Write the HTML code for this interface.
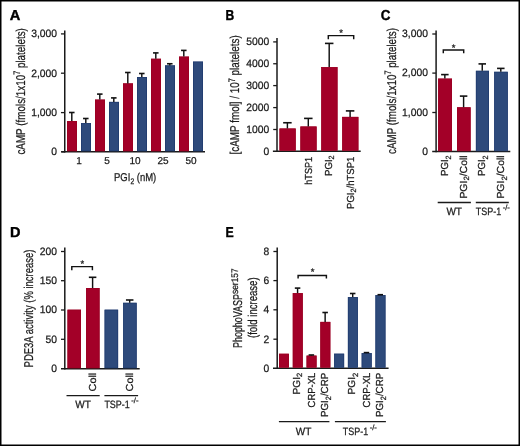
<!DOCTYPE html>
<html><head><meta charset="utf-8"><title>Figure</title>
<style>
html,body{margin:0;padding:0;background:#fff;}
svg{display:block;will-change:transform;}
text{text-rendering:geometricPrecision;font-family:"Liberation Sans",sans-serif;fill:#1a1a1a;stroke:#1a1a1a;stroke-width:0.25px;}
</style></head>
<body>
<svg width="520" height="446" viewBox="0 0 520 446">
<rect x="0" y="0" width="520" height="446" fill="#fff"/>
<text x="9.70" y="19.70" font-size="14.4" text-anchor="start" textLength="10.60" lengthAdjust="spacingAndGlyphs" font-weight="bold" style="stroke-width:0.4px;fill:#000;stroke:#000">A</text>
<line x1="64.75" y1="30.50" x2="64.75" y2="152.45" stroke="#1a1a1a" stroke-width="1.5"/>
<line x1="60.95" y1="33.90" x2="64.75" y2="33.90" stroke="#1a1a1a" stroke-width="1.3"/>
<text x="57.00" y="37.20" font-size="10.7" text-anchor="end" textLength="25.83" lengthAdjust="spacingAndGlyphs">3,000</text>
<line x1="60.95" y1="73.20" x2="64.75" y2="73.20" stroke="#1a1a1a" stroke-width="1.3"/>
<text x="57.00" y="76.50" font-size="10.7" text-anchor="end" textLength="25.83" lengthAdjust="spacingAndGlyphs">2,000</text>
<line x1="60.95" y1="112.60" x2="64.75" y2="112.60" stroke="#1a1a1a" stroke-width="1.3"/>
<text x="57.00" y="115.90" font-size="10.7" text-anchor="end" textLength="25.83" lengthAdjust="spacingAndGlyphs">1,000</text>
<text x="57.00" y="155.05" font-size="10.7" text-anchor="end" textLength="5.74" lengthAdjust="spacingAndGlyphs">0</text>
<line x1="61.20" y1="151.75" x2="64.75" y2="151.75" stroke="#1a1a1a" stroke-width="1.5"/>
<line x1="61.20" y1="151.75" x2="205.00" y2="151.75" stroke="#1a1a1a" stroke-width="1.5"/>
<rect x="67.00" y="121.00" width="10.00" height="30.00" fill="#a30028"/>
<rect x="67.35" y="121.35" width="9.30" height="29.65" fill="none" stroke="#9a0022" stroke-width="0.7"/>
<line x1="71.80" y1="121.00" x2="71.80" y2="112.50" stroke="#111" stroke-width="1.45"/>
<line x1="69.05" y1="112.50" x2="74.55" y2="112.50" stroke="#111" stroke-width="1.6"/>
<rect x="81.00" y="123.10" width="10.00" height="27.90" fill="#2e4a7b"/>
<rect x="81.35" y="123.45" width="9.30" height="27.55" fill="none" stroke="#1f3a6e" stroke-width="0.7"/>
<line x1="85.80" y1="123.10" x2="85.80" y2="118.50" stroke="#111" stroke-width="1.45"/>
<line x1="83.05" y1="118.50" x2="88.55" y2="118.50" stroke="#111" stroke-width="1.6"/>
<rect x="95.00" y="99.60" width="10.00" height="51.40" fill="#a30028"/>
<rect x="95.35" y="99.95" width="9.30" height="51.05" fill="none" stroke="#9a0022" stroke-width="0.7"/>
<line x1="99.80" y1="99.60" x2="99.80" y2="94.10" stroke="#111" stroke-width="1.45"/>
<line x1="97.05" y1="94.10" x2="102.55" y2="94.10" stroke="#111" stroke-width="1.6"/>
<rect x="109.00" y="101.90" width="10.00" height="49.10" fill="#2e4a7b"/>
<rect x="109.35" y="102.25" width="9.30" height="48.75" fill="none" stroke="#1f3a6e" stroke-width="0.7"/>
<line x1="113.80" y1="101.90" x2="113.80" y2="97.90" stroke="#111" stroke-width="1.45"/>
<line x1="111.05" y1="97.90" x2="116.55" y2="97.90" stroke="#111" stroke-width="1.6"/>
<rect x="123.00" y="83.40" width="10.00" height="67.60" fill="#a30028"/>
<rect x="123.35" y="83.75" width="9.30" height="67.25" fill="none" stroke="#9a0022" stroke-width="0.7"/>
<line x1="127.80" y1="83.40" x2="127.80" y2="72.50" stroke="#111" stroke-width="1.45"/>
<line x1="125.05" y1="72.50" x2="130.55" y2="72.50" stroke="#111" stroke-width="1.6"/>
<rect x="137.00" y="77.00" width="10.00" height="74.00" fill="#2e4a7b"/>
<rect x="137.35" y="77.35" width="9.30" height="73.65" fill="none" stroke="#1f3a6e" stroke-width="0.7"/>
<line x1="141.80" y1="77.00" x2="141.80" y2="73.50" stroke="#111" stroke-width="1.45"/>
<line x1="139.05" y1="73.50" x2="144.55" y2="73.50" stroke="#111" stroke-width="1.6"/>
<rect x="151.00" y="58.75" width="10.00" height="92.25" fill="#a30028"/>
<rect x="151.35" y="59.10" width="9.30" height="91.90" fill="none" stroke="#9a0022" stroke-width="0.7"/>
<line x1="155.80" y1="58.75" x2="155.80" y2="52.90" stroke="#111" stroke-width="1.45"/>
<line x1="153.05" y1="52.90" x2="158.55" y2="52.90" stroke="#111" stroke-width="1.6"/>
<rect x="165.00" y="65.40" width="10.00" height="85.60" fill="#2e4a7b"/>
<rect x="165.35" y="65.75" width="9.30" height="85.25" fill="none" stroke="#1f3a6e" stroke-width="0.7"/>
<line x1="169.80" y1="65.40" x2="169.80" y2="63.75" stroke="#111" stroke-width="1.45"/>
<line x1="167.05" y1="63.75" x2="172.55" y2="63.75" stroke="#111" stroke-width="1.6"/>
<rect x="179.00" y="56.60" width="10.00" height="94.40" fill="#a30028"/>
<rect x="179.35" y="56.95" width="9.30" height="94.05" fill="none" stroke="#9a0022" stroke-width="0.7"/>
<line x1="183.80" y1="56.60" x2="183.80" y2="50.40" stroke="#111" stroke-width="1.45"/>
<line x1="181.05" y1="50.40" x2="186.55" y2="50.40" stroke="#111" stroke-width="1.6"/>
<rect x="193.00" y="61.60" width="10.00" height="89.40" fill="#2e4a7b"/>
<rect x="193.35" y="61.95" width="9.30" height="89.05" fill="none" stroke="#1f3a6e" stroke-width="0.7"/>
<text x="79.00" y="164.30" font-size="10" text-anchor="middle">1</text>
<text x="107.00" y="164.30" font-size="10" text-anchor="middle">5</text>
<text x="135.00" y="164.30" font-size="10" text-anchor="middle">10</text>
<text x="163.00" y="164.30" font-size="10" text-anchor="middle">25</text>
<text x="191.00" y="164.30" font-size="10" text-anchor="middle">50</text>
<text x="114.00" y="180.60" font-size="11.3" text-anchor="start" textLength="42.30" lengthAdjust="spacingAndGlyphs">PGI<tspan font-size="8" dy="3">2</tspan><tspan dy="-3"> (nM)</tspan></text>
<text transform="translate(24.80,154.60) rotate(-90)" font-size="12.8" text-anchor="start" textLength="126.50" lengthAdjust="spacingAndGlyphs">cAMP (fmols/1x10<tspan font-size="9.4" dy="-4.6">7</tspan><tspan dy="4.6"> platelets)</tspan></text>
<text x="225.40" y="19.80" font-size="14.4" text-anchor="start" textLength="8.70" lengthAdjust="spacingAndGlyphs" font-weight="bold" style="stroke-width:0.4px;fill:#000;stroke:#000">B</text>
<line x1="277.00" y1="38.10" x2="277.00" y2="152.00" stroke="#1a1a1a" stroke-width="1.5"/>
<line x1="273.20" y1="41.90" x2="277.00" y2="41.90" stroke="#1a1a1a" stroke-width="1.3"/>
<text x="269.20" y="45.20" font-size="10.7" text-anchor="end" textLength="22.96" lengthAdjust="spacingAndGlyphs">5000</text>
<line x1="273.20" y1="63.75" x2="277.00" y2="63.75" stroke="#1a1a1a" stroke-width="1.3"/>
<text x="269.20" y="67.05" font-size="10.7" text-anchor="end" textLength="22.96" lengthAdjust="spacingAndGlyphs">4000</text>
<line x1="273.20" y1="85.60" x2="277.00" y2="85.60" stroke="#1a1a1a" stroke-width="1.3"/>
<text x="269.20" y="88.90" font-size="10.7" text-anchor="end" textLength="22.96" lengthAdjust="spacingAndGlyphs">3000</text>
<line x1="273.20" y1="107.60" x2="277.00" y2="107.60" stroke="#1a1a1a" stroke-width="1.3"/>
<text x="269.20" y="110.90" font-size="10.7" text-anchor="end" textLength="22.96" lengthAdjust="spacingAndGlyphs">2000</text>
<line x1="273.20" y1="129.50" x2="277.00" y2="129.50" stroke="#1a1a1a" stroke-width="1.3"/>
<text x="269.20" y="132.80" font-size="10.7" text-anchor="end" textLength="22.96" lengthAdjust="spacingAndGlyphs">1000</text>
<text x="269.20" y="154.60" font-size="10.7" text-anchor="end" textLength="5.74" lengthAdjust="spacingAndGlyphs">0</text>
<line x1="272.90" y1="151.30" x2="360.70" y2="151.30" stroke="#1a1a1a" stroke-width="1.5"/>
<rect x="279.50" y="128.50" width="16.20" height="22.10" fill="#a30028"/>
<rect x="279.85" y="128.85" width="15.50" height="21.75" fill="none" stroke="#9a0022" stroke-width="0.7"/>
<line x1="287.40" y1="128.50" x2="287.40" y2="122.75" stroke="#111" stroke-width="1.45"/>
<line x1="283.15" y1="122.75" x2="291.65" y2="122.75" stroke="#111" stroke-width="1.6"/>
<rect x="300.40" y="126.50" width="16.20" height="24.10" fill="#a30028"/>
<rect x="300.75" y="126.85" width="15.50" height="23.75" fill="none" stroke="#9a0022" stroke-width="0.7"/>
<line x1="308.30" y1="126.50" x2="308.30" y2="118.40" stroke="#111" stroke-width="1.45"/>
<line x1="304.05" y1="118.40" x2="312.55" y2="118.40" stroke="#111" stroke-width="1.6"/>
<rect x="321.30" y="67.10" width="16.20" height="83.50" fill="#a30028"/>
<rect x="321.65" y="67.45" width="15.50" height="83.15" fill="none" stroke="#9a0022" stroke-width="0.7"/>
<line x1="329.20" y1="67.10" x2="329.20" y2="43.40" stroke="#111" stroke-width="1.45"/>
<line x1="324.95" y1="43.40" x2="333.45" y2="43.40" stroke="#111" stroke-width="1.6"/>
<rect x="342.20" y="116.90" width="16.20" height="33.70" fill="#a30028"/>
<rect x="342.55" y="117.25" width="15.50" height="33.35" fill="none" stroke="#9a0022" stroke-width="0.7"/>
<line x1="350.10" y1="116.90" x2="350.10" y2="110.90" stroke="#111" stroke-width="1.45"/>
<line x1="345.85" y1="110.90" x2="354.35" y2="110.90" stroke="#111" stroke-width="1.6"/>
<path d="M328.30,39.20 V35.60 H353.70 V39.20" fill="none" stroke="#111" stroke-width="1.45"/>
<text x="341.00" y="35.70" font-size="9.5" text-anchor="middle">*</text>
<text transform="translate(311.80,156.80) rotate(-90)" font-size="10.2" text-anchor="end" textLength="28.00" lengthAdjust="spacingAndGlyphs">hTSP1</text>
<text transform="translate(331.80,155.40) rotate(-90)" font-size="10.2" text-anchor="end" textLength="20.60" lengthAdjust="spacingAndGlyphs">PGI<tspan font-size="7.6" dy="2.6">2</tspan><tspan dy="-2.6"></tspan></text>
<text transform="translate(353.60,156.60) rotate(-90)" font-size="10.2" text-anchor="end" textLength="52.40" lengthAdjust="spacingAndGlyphs">PGI<tspan font-size="7.6" dy="2.6">2</tspan><tspan dy="-2.6">/hTSP1</tspan></text>
<text transform="translate(239.20,154.50) rotate(-90)" font-size="12.8" text-anchor="start" textLength="119.20" lengthAdjust="spacingAndGlyphs">[cAMP fmol] / 10<tspan font-size="9.4" dy="-4.6">7</tspan><tspan dy="4.6"> platelets)</tspan></text>
<text x="380.80" y="19.80" font-size="14.4" text-anchor="start" textLength="9.70" lengthAdjust="spacingAndGlyphs" font-weight="bold" style="stroke-width:0.4px;fill:#000;stroke:#000">C</text>
<line x1="436.10" y1="30.60" x2="436.10" y2="152.30" stroke="#1a1a1a" stroke-width="1.5"/>
<line x1="432.30" y1="34.00" x2="436.10" y2="34.00" stroke="#1a1a1a" stroke-width="1.3"/>
<text x="427.90" y="37.30" font-size="10.7" text-anchor="end" textLength="25.83" lengthAdjust="spacingAndGlyphs">3,000</text>
<line x1="432.30" y1="73.10" x2="436.10" y2="73.10" stroke="#1a1a1a" stroke-width="1.3"/>
<text x="427.90" y="76.40" font-size="10.7" text-anchor="end" textLength="25.83" lengthAdjust="spacingAndGlyphs">2,000</text>
<line x1="432.30" y1="112.50" x2="436.10" y2="112.50" stroke="#1a1a1a" stroke-width="1.3"/>
<text x="427.90" y="115.80" font-size="10.7" text-anchor="end" textLength="25.83" lengthAdjust="spacingAndGlyphs">1,000</text>
<text x="427.90" y="154.90" font-size="10.7" text-anchor="end" textLength="5.74" lengthAdjust="spacingAndGlyphs">0</text>
<line x1="432.20" y1="151.60" x2="510.30" y2="151.60" stroke="#1a1a1a" stroke-width="1.5"/>
<rect x="438.10" y="78.60" width="13.90" height="72.30" fill="#a30028"/>
<rect x="438.45" y="78.95" width="13.20" height="71.95" fill="none" stroke="#9a0022" stroke-width="0.7"/>
<line x1="444.85" y1="78.60" x2="444.85" y2="74.60" stroke="#111" stroke-width="1.45"/>
<line x1="441.10" y1="74.60" x2="448.60" y2="74.60" stroke="#111" stroke-width="1.6"/>
<rect x="457.00" y="107.30" width="13.60" height="43.60" fill="#a30028"/>
<rect x="457.35" y="107.65" width="12.90" height="43.25" fill="none" stroke="#9a0022" stroke-width="0.7"/>
<line x1="463.60" y1="107.30" x2="463.60" y2="96.10" stroke="#111" stroke-width="1.45"/>
<line x1="459.85" y1="96.10" x2="467.35" y2="96.10" stroke="#111" stroke-width="1.6"/>
<rect x="475.90" y="70.80" width="13.10" height="80.10" fill="#2e4a7b"/>
<rect x="476.25" y="71.15" width="12.40" height="79.75" fill="none" stroke="#1f3a6e" stroke-width="0.7"/>
<line x1="482.25" y1="70.80" x2="482.25" y2="63.90" stroke="#111" stroke-width="1.45"/>
<line x1="478.50" y1="63.90" x2="486.00" y2="63.90" stroke="#111" stroke-width="1.6"/>
<rect x="494.20" y="71.80" width="13.60" height="79.10" fill="#2e4a7b"/>
<rect x="494.55" y="72.15" width="12.90" height="78.75" fill="none" stroke="#1f3a6e" stroke-width="0.7"/>
<line x1="500.80" y1="71.80" x2="500.80" y2="68.40" stroke="#111" stroke-width="1.45"/>
<line x1="497.05" y1="68.40" x2="504.55" y2="68.40" stroke="#111" stroke-width="1.6"/>
<path d="M443.30,53.30 V50.00 H463.70 V53.30" fill="none" stroke="#111" stroke-width="1.45"/>
<text x="453.50" y="50.50" font-size="9.5" text-anchor="middle">*</text>
<text transform="translate(447.95,155.40) rotate(-90)" font-size="10.2" text-anchor="end" textLength="20.60" lengthAdjust="spacingAndGlyphs">PGI<tspan font-size="7.6" dy="2.6">2</tspan><tspan dy="-2.6"></tspan></text>
<text transform="translate(466.60,155.40) rotate(-90)" font-size="10.2" text-anchor="end" textLength="43.20" lengthAdjust="spacingAndGlyphs">PGI<tspan font-size="7.6" dy="2.6">2</tspan><tspan dy="-2.6">/Coll</tspan></text>
<text transform="translate(485.25,155.40) rotate(-90)" font-size="10.2" text-anchor="end" textLength="20.60" lengthAdjust="spacingAndGlyphs">PGI<tspan font-size="7.6" dy="2.6">2</tspan><tspan dy="-2.6"></tspan></text>
<text transform="translate(503.90,155.40) rotate(-90)" font-size="10.2" text-anchor="end" textLength="43.20" lengthAdjust="spacingAndGlyphs">PGI<tspan font-size="7.6" dy="2.6">2</tspan><tspan dy="-2.6">/Coll</tspan></text>
<line x1="437.70" y1="202.50" x2="470.90" y2="202.50" stroke="#1a1a1a" stroke-width="1.3"/>
<line x1="475.80" y1="202.50" x2="508.80" y2="202.50" stroke="#1a1a1a" stroke-width="1.3"/>
<text x="454.20" y="214.60" font-size="10.6" text-anchor="middle" textLength="15.60" lengthAdjust="spacingAndGlyphs">WT</text>
<text x="475.80" y="214.60" font-size="10.6" text-anchor="start"><tspan textLength="25.3" lengthAdjust="spacingAndGlyphs">TSP-1</tspan><tspan font-size="7.6" dx="1.6" dy="-4.4" textLength="7.2" lengthAdjust="spacingAndGlyphs">-/-</tspan></text>
<text transform="translate(395.70,153.90) rotate(-90)" font-size="12.8" text-anchor="start" textLength="125.80" lengthAdjust="spacingAndGlyphs">cAMP (fmols/1x10<tspan font-size="9.4" dy="-4.6">7</tspan><tspan dy="4.6"> platelets)</tspan></text>
<text x="9.90" y="236.80" font-size="14.4" text-anchor="start" textLength="10.50" lengthAdjust="spacingAndGlyphs" font-weight="bold" style="stroke-width:0.4px;fill:#000;stroke:#000">D</text>
<line x1="64.80" y1="247.50" x2="64.80" y2="369.40" stroke="#1a1a1a" stroke-width="1.5"/>
<line x1="61.00" y1="251.50" x2="64.80" y2="251.50" stroke="#1a1a1a" stroke-width="1.3"/>
<text x="57.00" y="254.80" font-size="10.7" text-anchor="end" textLength="17.22" lengthAdjust="spacingAndGlyphs">200</text>
<line x1="61.00" y1="280.70" x2="64.80" y2="280.70" stroke="#1a1a1a" stroke-width="1.3"/>
<text x="57.00" y="284.00" font-size="10.7" text-anchor="end" textLength="17.22" lengthAdjust="spacingAndGlyphs">150</text>
<line x1="61.00" y1="310.00" x2="64.80" y2="310.00" stroke="#1a1a1a" stroke-width="1.3"/>
<text x="57.00" y="313.30" font-size="10.7" text-anchor="end" textLength="17.22" lengthAdjust="spacingAndGlyphs">100</text>
<line x1="61.00" y1="339.30" x2="64.80" y2="339.30" stroke="#1a1a1a" stroke-width="1.3"/>
<text x="57.00" y="342.60" font-size="10.7" text-anchor="end" textLength="11.48" lengthAdjust="spacingAndGlyphs">50</text>
<text x="57.00" y="372.00" font-size="10.7" text-anchor="end" textLength="5.74" lengthAdjust="spacingAndGlyphs">0</text>
<line x1="61.00" y1="368.70" x2="139.70" y2="368.70" stroke="#1a1a1a" stroke-width="1.5"/>
<rect x="67.50" y="309.70" width="13.50" height="58.30" fill="#a30028"/>
<rect x="67.85" y="310.05" width="12.80" height="57.95" fill="none" stroke="#9a0022" stroke-width="0.7"/>
<rect x="86.05" y="288.00" width="13.50" height="80.00" fill="#a30028"/>
<rect x="86.40" y="288.35" width="12.80" height="79.65" fill="none" stroke="#9a0022" stroke-width="0.7"/>
<line x1="92.60" y1="288.00" x2="92.60" y2="277.30" stroke="#111" stroke-width="1.45"/>
<line x1="88.85" y1="277.30" x2="96.35" y2="277.30" stroke="#111" stroke-width="1.6"/>
<rect x="104.60" y="309.70" width="13.50" height="58.30" fill="#2e4a7b"/>
<rect x="104.95" y="310.05" width="12.80" height="57.95" fill="none" stroke="#1f3a6e" stroke-width="0.7"/>
<rect x="123.15" y="302.80" width="13.50" height="65.20" fill="#2e4a7b"/>
<rect x="123.50" y="303.15" width="12.80" height="64.85" fill="none" stroke="#1f3a6e" stroke-width="0.7"/>
<line x1="129.70" y1="302.80" x2="129.70" y2="300.00" stroke="#111" stroke-width="1.45"/>
<line x1="125.95" y1="300.00" x2="133.45" y2="300.00" stroke="#111" stroke-width="1.6"/>
<path d="M71.80,270.20 V266.60 H92.40 V270.20" fill="none" stroke="#111" stroke-width="1.45"/>
<text x="82.30" y="267.20" font-size="9.5" text-anchor="middle">*</text>
<text transform="translate(95.60,372.80) rotate(-90)" font-size="10.2" text-anchor="end" textLength="18.60" lengthAdjust="spacingAndGlyphs">Coll</text>
<text transform="translate(133.00,372.80) rotate(-90)" font-size="10.2" text-anchor="end" textLength="18.60" lengthAdjust="spacingAndGlyphs">Coll</text>
<line x1="66.50" y1="395.60" x2="99.70" y2="395.60" stroke="#1a1a1a" stroke-width="1.3"/>
<line x1="104.40" y1="395.60" x2="138.10" y2="395.60" stroke="#1a1a1a" stroke-width="1.3"/>
<text x="83.10" y="407.80" font-size="10.6" text-anchor="middle" textLength="15.60" lengthAdjust="spacingAndGlyphs">WT</text>
<text x="104.40" y="407.80" font-size="10.6" text-anchor="start"><tspan textLength="25.3" lengthAdjust="spacingAndGlyphs">TSP-1</tspan><tspan font-size="7.6" dx="1.6" dy="-4.4" textLength="7.2" lengthAdjust="spacingAndGlyphs">-/-</tspan></text>
<text transform="translate(33.20,367.40) rotate(-90)" font-size="12.8" text-anchor="start" textLength="117.80" lengthAdjust="spacingAndGlyphs">PDE3A activity (% increase)</text>
<text x="225.50" y="236.60" font-size="14.4" text-anchor="start" textLength="8.20" lengthAdjust="spacingAndGlyphs" font-weight="bold" style="stroke-width:0.4px;fill:#000;stroke:#000">E</text>
<line x1="277.20" y1="247.40" x2="277.20" y2="368.90" stroke="#1a1a1a" stroke-width="1.5"/>
<line x1="273.40" y1="251.50" x2="277.20" y2="251.50" stroke="#1a1a1a" stroke-width="1.3"/>
<text x="269.30" y="254.80" font-size="10.7" text-anchor="end" textLength="5.74" lengthAdjust="spacingAndGlyphs">8</text>
<line x1="273.40" y1="280.60" x2="277.20" y2="280.60" stroke="#1a1a1a" stroke-width="1.3"/>
<text x="269.30" y="283.90" font-size="10.7" text-anchor="end" textLength="5.74" lengthAdjust="spacingAndGlyphs">6</text>
<line x1="273.40" y1="309.80" x2="277.20" y2="309.80" stroke="#1a1a1a" stroke-width="1.3"/>
<text x="269.30" y="313.10" font-size="10.7" text-anchor="end" textLength="5.74" lengthAdjust="spacingAndGlyphs">4</text>
<line x1="273.40" y1="339.20" x2="277.20" y2="339.20" stroke="#1a1a1a" stroke-width="1.3"/>
<text x="269.30" y="342.50" font-size="10.7" text-anchor="end" textLength="5.74" lengthAdjust="spacingAndGlyphs">2</text>
<text x="269.30" y="371.50" font-size="10.7" text-anchor="end" textLength="5.74" lengthAdjust="spacingAndGlyphs">0</text>
<line x1="273.00" y1="368.20" x2="388.60" y2="368.20" stroke="#1a1a1a" stroke-width="1.5"/>
<rect x="279.00" y="353.75" width="10.00" height="13.75" fill="#a30028"/>
<rect x="279.35" y="354.10" width="9.30" height="13.40" fill="none" stroke="#9a0022" stroke-width="0.7"/>
<rect x="292.78" y="293.10" width="10.00" height="74.40" fill="#a30028"/>
<rect x="293.13" y="293.45" width="9.30" height="74.05" fill="none" stroke="#9a0022" stroke-width="0.7"/>
<line x1="297.58" y1="293.10" x2="297.58" y2="288.10" stroke="#111" stroke-width="1.45"/>
<line x1="294.83" y1="288.10" x2="300.33" y2="288.10" stroke="#111" stroke-width="1.6"/>
<rect x="306.56" y="355.60" width="10.00" height="11.90" fill="#a30028"/>
<rect x="306.91" y="355.95" width="9.30" height="11.55" fill="none" stroke="#9a0022" stroke-width="0.7"/>
<line x1="311.36" y1="355.60" x2="311.36" y2="355.00" stroke="#111" stroke-width="1.45"/>
<line x1="308.61" y1="355.00" x2="314.11" y2="355.00" stroke="#111" stroke-width="1.6"/>
<rect x="320.34" y="321.90" width="10.00" height="45.60" fill="#a30028"/>
<rect x="320.69" y="322.25" width="9.30" height="45.25" fill="none" stroke="#9a0022" stroke-width="0.7"/>
<line x1="325.14" y1="321.90" x2="325.14" y2="312.50" stroke="#111" stroke-width="1.45"/>
<line x1="322.39" y1="312.50" x2="327.89" y2="312.50" stroke="#111" stroke-width="1.6"/>
<rect x="334.12" y="353.70" width="10.00" height="13.80" fill="#2e4a7b"/>
<rect x="334.47" y="354.05" width="9.30" height="13.45" fill="none" stroke="#1f3a6e" stroke-width="0.7"/>
<rect x="347.90" y="297.10" width="10.00" height="70.40" fill="#2e4a7b"/>
<rect x="348.25" y="297.45" width="9.30" height="70.05" fill="none" stroke="#1f3a6e" stroke-width="0.7"/>
<line x1="352.70" y1="297.10" x2="352.70" y2="293.50" stroke="#111" stroke-width="1.45"/>
<line x1="349.95" y1="293.50" x2="355.45" y2="293.50" stroke="#111" stroke-width="1.6"/>
<rect x="361.68" y="353.10" width="10.00" height="14.40" fill="#2e4a7b"/>
<rect x="362.03" y="353.45" width="9.30" height="14.05" fill="none" stroke="#1f3a6e" stroke-width="0.7"/>
<line x1="366.48" y1="353.10" x2="366.48" y2="352.60" stroke="#111" stroke-width="1.45"/>
<line x1="363.73" y1="352.60" x2="369.23" y2="352.60" stroke="#111" stroke-width="1.6"/>
<rect x="375.46" y="295.10" width="10.00" height="72.40" fill="#2e4a7b"/>
<rect x="375.81" y="295.45" width="9.30" height="72.05" fill="none" stroke="#1f3a6e" stroke-width="0.7"/>
<line x1="380.26" y1="295.10" x2="380.26" y2="294.70" stroke="#111" stroke-width="1.45"/>
<line x1="377.51" y1="294.70" x2="383.01" y2="294.70" stroke="#111" stroke-width="1.6"/>
<path d="M298.10,278.50 V275.40 H326.40 V278.50" fill="none" stroke="#111" stroke-width="1.45"/>
<text x="312.50" y="275.30" font-size="9.5" text-anchor="middle">*</text>
<text transform="translate(299.88,372.80) rotate(-90)" font-size="10.2" text-anchor="end" textLength="21.60" lengthAdjust="spacingAndGlyphs">PGI<tspan font-size="7.6" dy="2.6">2</tspan><tspan dy="-2.6"></tspan></text>
<text transform="translate(314.66,372.80) rotate(-90)" font-size="10.2" text-anchor="end" textLength="34.60" lengthAdjust="spacingAndGlyphs">CRP-XL</text>
<text transform="translate(327.94,372.80) rotate(-90)" font-size="10.2" text-anchor="end" textLength="44.20" lengthAdjust="spacingAndGlyphs">PGI<tspan font-size="7.6" dy="2.6">2</tspan><tspan dy="-2.6">/CRP</tspan></text>
<text transform="translate(355.00,372.80) rotate(-90)" font-size="10.2" text-anchor="end" textLength="21.60" lengthAdjust="spacingAndGlyphs">PGI<tspan font-size="7.6" dy="2.6">2</tspan><tspan dy="-2.6"></tspan></text>
<text transform="translate(369.78,372.80) rotate(-90)" font-size="10.2" text-anchor="end" textLength="34.60" lengthAdjust="spacingAndGlyphs">CRP-XL</text>
<text transform="translate(383.06,372.80) rotate(-90)" font-size="10.2" text-anchor="end" textLength="44.20" lengthAdjust="spacingAndGlyphs">PGI<tspan font-size="7.6" dy="2.6">2</tspan><tspan dy="-2.6">/CRP</tspan></text>
<line x1="278.90" y1="421.60" x2="329.40" y2="421.60" stroke="#1a1a1a" stroke-width="1.4"/>
<line x1="334.90" y1="421.60" x2="385.90" y2="421.60" stroke="#1a1a1a" stroke-width="1.4"/>
<text x="303.60" y="434.50" font-size="10.6" text-anchor="middle" textLength="15.60" lengthAdjust="spacingAndGlyphs">WT</text>
<text x="342.80" y="434.50" font-size="10.6" text-anchor="start"><tspan textLength="25.3" lengthAdjust="spacingAndGlyphs">TSP-1</tspan><tspan font-size="7.6" dx="1.6" dy="-4.4" textLength="7.2" lengthAdjust="spacingAndGlyphs">-/-</tspan></text>
<text transform="translate(242.00,348.00) rotate(-90)" font-size="12.8" text-anchor="start"><tspan textLength="54.0" lengthAdjust="spacingAndGlyphs">PhophoVASP</tspan><tspan font-size="9.6" dy="-3.8" textLength="25.6" lengthAdjust="spacingAndGlyphs">ser157</tspan></text>
<text transform="translate(257.40,338.00) rotate(-90)" font-size="12.8" text-anchor="start" textLength="60.60" lengthAdjust="spacingAndGlyphs">(fold increase)</text>
<rect x="0.75" y="0.75" width="518.5" height="444.5" fill="none" stroke="#000" stroke-width="1.5"/>
</svg>
</body></html>
